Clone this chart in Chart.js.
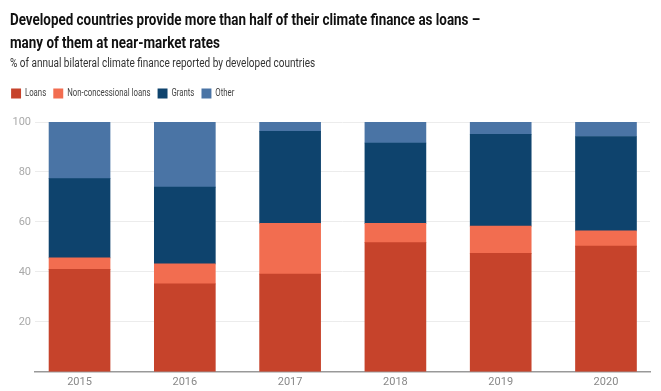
<!DOCTYPE html>
<html>
<head>
<meta charset="utf-8">
<script src="https://cdn.jsdelivr.net/npm/chart.js@4"></script>
<style>
  html, body { margin: 0; padding: 0; background: #fff; }
  #wrap { position: relative; width: 661px; height: 391px; }
  .head { position: absolute; left: 10px; white-space: nowrap; transform-origin: 0 0; font-family: Roboto, sans-serif; }
  .title { font-size: 16px; line-height: 22.5px; font-weight: bold; color: #111; }
  .sub { font-size: 12.5px; line-height: 15px; color: #333; }
</style>
</head>
<body>
<div id="wrap">
  <canvas id="chart"></canvas>
  <div class="head title" id="t1" style="top:9px">Developed countries provide more than half of their climate finance as loans –</div>
  <div class="head title" id="t2" style="top:31.5px">many of them at near-market rates</div>
  <div class="head sub" id="st" style="top:55px">% of annual bilateral climate finance reported by developed countries</div>
</div>
<script>
const years = [2015, 2016, 2017, 2018, 2019, 2020];
const loans = [41.0, 35.2, 39.1, 51.7, 47.4, 50.3];
const nonConcessional = [4.6, 8.0, 20.3, 7.7, 10.9, 6.1];
const grants = [31.7, 30.7, 36.9, 32.2, 36.8, 37.8];
const other = [22.7, 26.1, 3.7, 8.4, 4.9, 5.8];
const yTicks = [0, 20, 40, 60, 80, 100];

// squeeze the heading lines to the narrow look of the original
const t1 = document.getElementById('t1');
const sx = 470 / t1.offsetWidth;
t1.style.transform = `scaleX(${sx})`;
document.getElementById('t2').style.transform = `scaleX(${sx})`;
const st = document.getElementById('st');
st.style.transform = `scaleX(${305 / st.offsetWidth})`;

function toPoints(values) {
    return years.map((yr, i) => ({ x: yr, y: values[i] }));
}

const datasets = [
    { label: 'Loans', data: toPoints(loans), backgroundColor: '#c6432b' },
    { label: 'Non-concessional loans', data: toPoints(nonConcessional), backgroundColor: '#f26d50' },
    { label: 'Grants', data: toPoints(grants), backgroundColor: '#0e436d' },
    { label: 'Other', data: toPoints(other), backgroundColor: '#4a74a5' }
];
datasets.forEach(ds => {
    ds.barThickness = 61;
    ds.borderWidth = 0;
});

// extra room under the legend, and a narrower legend like the original
const LEGEND_SQUEEZE = 0.71;
const legendTweak = {
    id: 'legendTweak',
    beforeInit(chart) {
        const lg = chart.legend;
        const fit = lg.fit;
        lg.fit = function () {
            fit.call(this);
            this.height += 13;
        };
        const draw = lg.draw;
        lg.draw = function () {
            const ctx = this.ctx;
            ctx.save();
            ctx.translate(this.left, 0);
            ctx.scale(LEGEND_SQUEEZE, 1);
            ctx.translate(-this.left, 0);
            draw.call(this);
            ctx.restore();
        };
    }
};

new Chart(document.getElementById('chart'), {
    type: 'bar',
    data: { datasets: datasets },
    plugins: [legendTweak],
    options: {
        responsive: true,
        maintainAspectRatio: false,
        animation: false,
        layout: { padding: { left: 4, right: 11, top: 78, bottom: -2 } },
        scales: {
            x: {
                type: 'linear',
                stacked: true,
                bounds: 'data',
                offset: false,
                min: 2014.577,
                max: 2020.418,
                afterBuildTicks: s => { s.ticks = years.map(v => ({ value: v })); },
                grid: { display: false, drawTicks: false },
                border: { display: true, color: '#999', width: 1.5 },
                ticks: {
                    color: '#888',
                    font: { family: 'Roboto', size: 11 },
                    padding: 4,
                    maxRotation: 0,
                    autoSkip: false,
                    callback: v => String(v)
                }
            },
            y: {
                stacked: true,
                min: 0,
                max: 100,
                afterBuildTicks: s => { s.ticks = yTicks.map(v => ({ value: v })); },
                afterFit: s => { s.width = 31; },
                grid: { color: '#ececec', drawTicks: false },
                border: { display: false },
                ticks: {
                    color: '#aaa',
                    font: { family: 'Roboto', size: 11 },
                    padding: 4,
                    callback: v => v === 0 ? '' : v
                }
            }
        },
        plugins: {
            legend: {
                align: 'start',
                labels: {
                    boxWidth: 14,
                    boxHeight: 10,
                    padding: 10,
                    color: '#444',
                    font: { family: 'Roboto', size: 11 }
                }
            },
            tooltip: { enabled: false }
        }
    }
});
</script>
</body>
</html>
